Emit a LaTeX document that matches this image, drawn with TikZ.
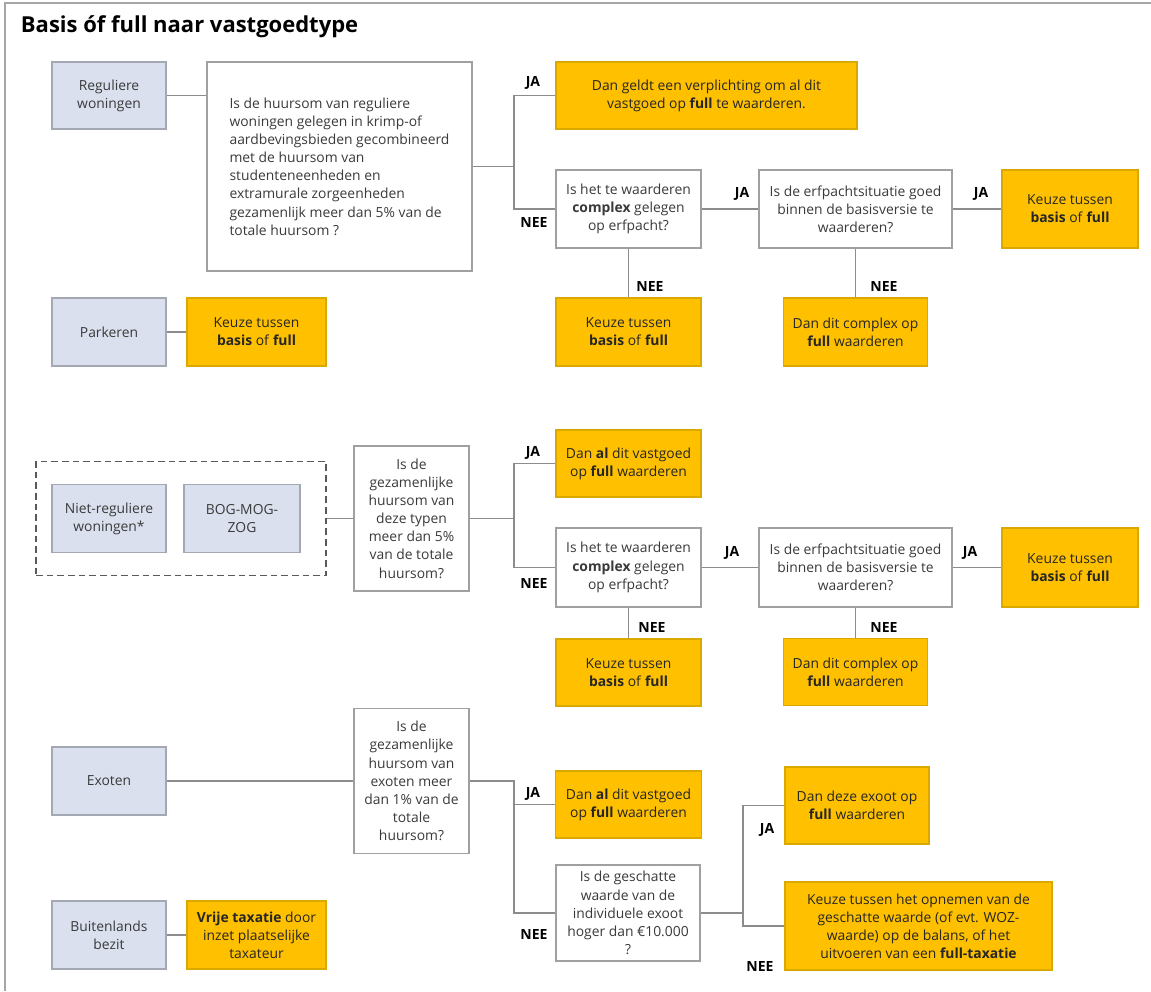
\documentclass[tikz,border=0pt]{standalone}
\usepackage{fontspec}
\setmainfont{Open Sans}
\usetikzlibrary{positioning}
\definecolor{catblue}{HTML}{DAE0EE}
\definecolor{catline}{HTML}{A3A8B2}
\definecolor{resultgold}{HTML}{FFC000}
\definecolor{resultline}{HTML}{D9A900}
\definecolor{boxgray}{HTML}{A0A0A0}
\definecolor{linkgray}{HTML}{8C8C8C}
\definecolor{textgray}{HTML}{3A3A3A}

\begin{document}
\begin{tikzpicture}[
    x=0.75pt, y=-0.75pt,
    every node/.style={font=\fontsize{10.4}{13.6}\selectfont, inner sep=2pt},
    boxsize/.style 2 args={minimum width=#1*0.75pt, minimum height=#2*0.75pt},
    category/.style={rectangle, draw=catline, fill=catblue, line width=1pt,
                     text=textgray, align=center},
    question/.style={rectangle, draw=boxgray, fill=white, line width=1.1pt,
                     text=textgray, align=center},
    result/.style={rectangle, draw=resultline, fill=resultgold, line width=0.8pt,
                   text=black!85, align=center},
    answer/.style={font=\fontsize{10.5}{12}\selectfont\bfseries, text=black},
    link/.style={draw=linkgray, line width=1.1pt},
]
\useasboundingbox (0,0) rectangle (1151,991);

% Frame and title
\draw[draw=gray!70, line width=1.2pt] (5,991) -- (5,3) -- (1151,3);
\node[anchor=base west, font=\fontsize{16.5}{18}\selectfont\bfseries] (title) at (18,33) {Basis óf full naar vastgoedtype};

% Reguliere woningen
\node[category, boxsize={114}{67}] (reg) at (109,95.5) {Reguliere\\woningen};
\node[question, boxsize={265}{209}, align=left] (q1) at (339.5,166.5) {Is de huursom van reguliere\\woningen gelegen in krimp-of\\aardbevingsbieden gecombineerd\\met de huursom van\\studenteneenheden en\\extramurale zorgeenheden\\gezamenlijk meer dan 5\% van de\\totale huursom ?};
\node[result, boxsize={301}{67}] (o1) at (706.5,95.5) {Dan geldt een verplichting om al dit\\vastgoed op \textbf{full} te waarderen.};
\node[question, boxsize={145}{78}] (q2) at (628.5,209) {Is het te waarderen\\\textbf{complex} gelegen\\op erfpacht?};
\node[question, boxsize={193}{78}] (q3) at (855.5,209) {Is de erfpachtsituatie goed\\binnen de basisversie te\\waarderen?};
\node[result, boxsize={136}{78}] (k1) at (1070,209) {Keuze tussen\\\textbf{basis} of \textbf{full}};
\node[result, boxsize={145}{68}] (k2) at (628.5,332) {Keuze tussen\\\textbf{basis} of \textbf{full}};
\node[result, boxsize={144}{68}] (d1) at (855.5,332) {Dan dit complex op\\\textbf{full} waarderen};
\coordinate (j1) at (514,166.5);
\draw[link] (reg.east) -- (q1.west |- reg.east);
\draw[link] (q1.east) -- (j1);
\draw[link] (o1.west) -| (j1) |- (q2.west);
\draw[link] (q2.east) -- (q3.west);
\draw[link] (q3.east) -- (k1.west);
\draw[link] (q2.south) -- (k2.north);
\draw[link] (q3.south) -- (d1.north);
\node[answer] (ja1) at (533,83) {JA};
\node[answer] (nee1) at (534,223) {NEE};
\node[answer] (ja2) at (742,194) {JA};
\node[answer] (ja3) at (981,194) {JA};
\node[answer] (nee2) at (650,287) {NEE};
\node[answer] (nee3) at (884,287) {NEE};

% Parkeren
\node[category, boxsize={114}{68}] (park) at (109,332) {Parkeren};
\node[result, boxsize={139}{68}] (kp) at (256.5,332) {Keuze tussen\\\textbf{basis} of \textbf{full}};
\draw[link] (park.east) -- (kp.west);

% Niet-reguliere woningen en BOG-MOG-ZOG
\node[category, boxsize={114}{68}] (niet) at (109,518.5) {Niet-reguliere\\woningen*};
\node[category, boxsize={116}{68}] (bog) at (242,518.5) {BOG-MOG-\\ZOG};
\node[draw=black!65, dash pattern=on 5pt off 3pt, line width=1pt, boxsize={290}{114}] (grp) at (181,518.5) {};
\node[question, boxsize={115}{145}] (qb) at (411.5,518.5) {Is de\\gezamenlijke\\huursom van\\deze typen\\meer dan 5\%\\van de totale\\huursom?};
\node[result, boxsize={145}{67}] (o2) at (628.5,463.5) {Dan \textbf{al} dit vastgoed\\op \textbf{full} waarderen};
\node[question, boxsize={145}{79}] (q2b) at (628.5,567.5) {Is het te waarderen\\\textbf{complex} gelegen\\op erfpacht?};
\node[question, boxsize={193}{79}] (q3b) at (855.5,567.5) {Is de erfpachtsituatie goed\\binnen de basisversie te\\waarderen?};
\node[result, boxsize={136}{79}] (k1b) at (1070,567.5) {Keuze tussen\\\textbf{basis} of \textbf{full}};
\node[result, boxsize={145}{67}] (k2b) at (628.5,672.5) {Keuze tussen\\\textbf{basis} of \textbf{full}};
\node[result, boxsize={144}{67}] (d1b) at (855.5,672) {Dan dit complex op\\\textbf{full} waarderen};
\coordinate (j2) at (514,518.5);
\draw[link] (grp.east) -- (qb.west);
\draw[link] (qb.east) -- (j2);
\draw[link] (o2.west) -| (j2) |- (q2b.west);
\draw[link] (q2b.east) -- (q3b.west);
\draw[link] (q3b.east) -- (k1b.west);
\draw[link] (q2b.south) -- (k2b.north);
\draw[link] (q3b.south) -- (d1b.north);
\node[answer] (ja4) at (533,453) {JA};
\node[answer] (nee4) at (534,583) {NEE};
\node[answer] (ja5) at (732,553) {JA};
\node[answer] (ja6) at (970,553) {JA};
\node[answer] (nee5) at (652,627) {NEE};
\node[answer] (nee6) at (884,627) {NEE};

% Exoten
\node[category, boxsize={114}{68}] (exo) at (109,781) {Exoten};
\node[question, boxsize={115}{145}] (qe) at (411.5,781) {Is de\\gezamenlijke\\huursom van\\exoten meer\\dan 1\% van de\\totale\\huursom?};
\node[result, boxsize={146}{67}] (o3) at (628.5,804.5) {Dan \textbf{al} dit vastgoed\\op \textbf{full} waarderen};
\node[question, boxsize={144}{96}] (q4) at (628,913) {Is de geschatte\\waarde van de\\individuele exoot\\hoger dan €10.000\\?};
\node[result, boxsize={144}{77}] (o4) at (857,805.5) {Dan deze exoot op\\\textbf{full} waarderen};
\node[result, boxsize={267}{88}] (o5) at (918.5,926) {Keuze tussen het opnemen van de\\geschatte waarde (of evt. WOZ-\\waarde) op de balans, of het\\uitvoeren van een \textbf{full-taxatie}};
\coordinate (j3) at (514,781);
\coordinate (j4) at (743,913);
\draw[link] (exo.east) -- (qe.west);
\draw[link] (qe.east) -- (j3) |- (q4.west);
\draw[link] (j3 |- o3.west) -- (o3.west);
\draw[link] (q4.east) -- (j4);
\draw[link] (o4.west) -| (j4) |- (o5.west);
\node[answer] (ja7) at (533,794) {JA};
\node[answer] (nee7) at (534,934) {NEE};
\node[answer] (ja8) at (767,830) {JA};
\node[answer] (nee8) at (760,966) {NEE};

% Buitenlands bezit
\node[category, boxsize={114}{68}] (buit) at (109,935) {Buitenlands\\bezit};
\node[result, boxsize={139}{68}] (vt) at (256.5,935) {\textbf{Vrije taxatie} door\\inzet plaatselijke\\taxateur};
\draw[link] (buit.east) -- (vt.west);

\end{tikzpicture}
\end{document}
